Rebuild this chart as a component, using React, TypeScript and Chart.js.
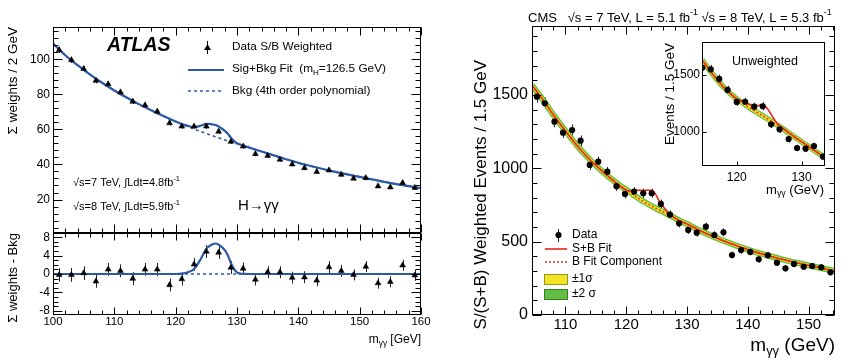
import React, { useEffect, useRef } from "react";
import { Chart, registerables } from "chart.js";

Chart.register(...registerables);

const W = 850;
const H = 364;
const FAM = '"Liberation Sans", Arial, Helvetica, sans-serif';
const BLUE = "#2c58a6";
const RED = "#e8261c";
const GREEN = "#62be40";
const YELLOW = "#f2e422";

// ---------------- ATLAS (left) ----------------
const atlasMass = [101, 103, 105, 107, 109, 111, 113, 115, 117, 119, 121, 123, 125, 127, 129, 131, 133, 135, 137, 139, 141, 143, 145, 147, 149, 151, 153, 155, 157, 159];
const atlasWeights = [105.3, 99.6, 94.5, 87.8, 85.8, 81.2, 75.9, 73.8, 70.2, 63.6, 61.7, 61.7, 61.7, 58.8, 53.0, 50.3, 46.0, 45.0, 42.8, 40.1, 38.0, 35.8, 36.7, 34.2, 32.0, 32.3, 27.6, 27.0, 29.5, 26.7];
const atlasWeightErr = [1.7, 1.7, 1.6, 1.6, 1.6, 1.6, 1.5, 1.5, 1.5, 1.4, 1.4, 1.4, 1.4, 1.4, 1.3, 1.3, 1.3, 1.3, 1.3, 1.2, 1.2, 1.2, 1.2, 1.2, 1.1, 1.1, 1.1, 1.1, 1.1, 1.1];
const atlasFitMass = [100, 102, 104, 106, 108, 110, 112, 114, 116, 118, 120, 121, 122, 123, 124, 125, 125.5, 126, 126.5, 127, 127.5, 128, 128.5, 129, 129.5, 130, 130.5, 131, 132, 134, 136, 138, 140, 142, 144, 146, 148, 150, 152, 154, 156, 158, 160];
const atlasBkg = [109.0, 102.3, 96.6, 91.4, 86.6, 82.2, 78.2, 74.4, 70.9, 67.6, 64.5, 63.0, 61.6, 60.2, 58.9, 57.6, 57.0, 56.4, 55.8, 55.2, 54.6, 54.0, 53.45, 52.9, 52.35, 51.8, 51.25, 50.7, 49.6, 47.4, 45.2, 43.0, 40.9, 39.1, 37.4, 35.8, 34.3, 32.9, 31.5, 30.1, 28.8, 27.6, 26.5];
const atlasSigBkg = [109.0, 102.3, 96.6, 91.4, 86.6, 82.2, 78.2, 74.4, 70.9, 67.6, 64.5, 63.1, 62.0, 61.3, 61.95, 63.1, 63.1, 62.9, 62.45, 61.6, 60.5, 59.2, 57.55, 55.3, 53.45, 52.15, 51.35, 50.72, 49.6, 47.4, 45.2, 43.0, 40.9, 39.1, 37.4, 35.8, 34.3, 32.9, 31.5, 30.1, 28.8, 27.6, 26.5];
const atlasResid = [-0.2, -0.2, 0.2, -1.6, 1.0, 0.7, -1.0, 1.0, 1.0, -2.4, -1.1, 2.1, 4.9, 4.7, 1.4, 1.2, -1.2, 0.4, 0.4, -0.8, -0.7, -1.4, 1.5, 0.7, -0.2, 1.6, -2.0, -1.7, 1.9, -0.3];
const atlasResidErr = [1.5, 1.5, 1.5, 1.4, 1.4, 1.4, 1.4, 1.4, 1.4, 1.4, 1.4, 1.4, 1.4, 1.4, 1.4, 1.3, 1.3, 1.3, 1.3, 1.3, 1.3, 1.3, 1.3, 1.3, 1.2, 1.2, 1.2, 1.2, 1.2, 1.2];
const residFitMass = [100, 120, 121, 122, 123, 124, 125, 125.5, 126, 126.5, 127, 127.5, 128, 128.5, 129, 129.5, 130, 130.5, 131, 132, 160];
const residFit = [0, 0, 0.1, 0.4, 1.1, 3.05, 5.5, 6.1, 6.5, 6.65, 6.4, 5.9, 5.2, 4.1, 2.4, 1.1, 0.35, 0.1, 0.02, 0, 0];
const residBkgMass = [100, 160];
const residBkg = [0, 0];
const atlasXTicks = [100, 110, 120, 130, 140, 150, 160];
const atlasYTicks = [20, 40, 60, 80, 100];
const residYTicks = [-8, -4, 0, 4, 8];

// ---------------- CMS (right) ----------------
const cmsMass = [105.3, 106.6, 108.2, 109.6, 111.1, 112.5, 114.0, 115.4, 116.9, 118.4, 119.8, 121.3, 122.8, 124.2, 125.7, 127.2, 128.7, 130.2, 131.6, 133.1, 134.5, 136.0, 137.4, 138.9, 140.4, 141.8, 143.3, 144.8, 146.2, 147.6, 149.2, 150.6, 152.1, 153.6];
const cmsEvents = [1488, 1443, 1318, 1243, 1261, 1188, 1023, 1045, 977, 878, 825, 841, 830, 830, 757, 684, 625, 580, 561, 602, 545, 564, 409, 443, 430, 380, 407, 357, 318, 348, 329, 334, 325, 291];
const cmsErr = [40, 40, 38, 37, 38, 36, 34, 34, 33, 32, 31, 31, 31, 31, 30, 29, 28, 27, 27, 27, 26, 26, 24, 25, 24, 23, 24, 23, 22, 23, 22, 22, 22, 21];
const cmsFitMass = [104.5, 106, 108, 110, 112, 114, 116, 118, 120, 120.7, 121.3, 122.8, 124.2, 125.7, 127.2, 128.7, 130, 132, 134, 136, 138, 140, 142, 144, 146, 148, 150, 152, 154.35];
const cmsBkg = [1565, 1485, 1365, 1255, 1150, 1060, 982, 912, 853, 836, 815, 775, 742, 710, 679, 645, 620, 578, 540, 506, 475, 446, 420, 397, 376, 356, 338, 320, 300];
const cmsSB = [1565, 1485, 1365, 1255, 1150, 1060, 982, 912, 853, 845, 850, 850, 850, 760, 686, 645, 620, 578, 540, 506, 475, 446, 420, 397, 376, 356, 338, 320, 300];
const cmsXTicks = [110, 120, 130, 140, 150];
const cmsYTicks = [0, 500, 1000, 1500];

// inset (unweighted)
const insetMass = [114.7, 116.0, 117.3, 118.6, 120.0, 121.3, 122.7, 124.0, 125.3, 126.6, 128.0, 129.3, 130.6, 131.9, 133.3];
const insetEvents = [1564, 1550, 1465, 1368, 1262, 1264, 1220, 1224, 1065, 1021, 935, 856, 850, 873, 779];
const insetErr = [40, 39, 38, 37, 36, 36, 35, 35, 33, 32, 31, 29, 29, 30, 28];
const insetFitMass = [114.65, 116.4, 117.9, 120.0, 121.0, 122.0, 123.1, 124.0, 124.7, 125.6, 126.3, 127.0, 128.2, 129.5, 130.8, 132.0, 133.6];
const insetBkg = [1632, 1500, 1397, 1288, 1250, 1210, 1171, 1139, 1115, 1083, 1057, 1030, 982, 930, 880, 832, 770];
const insetSB = [1632, 1500, 1397, 1290, 1265, 1242, 1230, 1234, 1205, 1125, 1068, 1036, 982, 930, 880, 832, 770];
const insetXTicks = [120, 130];
const insetYTicks = [1000, 1500];

// ---------------- helpers ----------------
type Seg = string | { t: string; s: "sup" | "sub" };

function rich(
  ctx: CanvasRenderingContext2D,
  segs: Seg[],
  x: number,
  y: number,
  size: number,
  o: { align?: "left" | "right" | "center"; weight?: string; italic?: boolean; rot?: boolean; color?: string } = {}
) {
  ctx.save();
  ctx.fillStyle = o.color || "#000";
  ctx.textBaseline = "middle";
  ctx.textAlign = "left";
  const fontFor = (small: boolean) =>
    `${o.italic ? "italic" : "normal"} ${o.weight || "normal"} ${small ? size * 0.68 : size}px ${FAM}`;
  const parts = segs.map((s) => (typeof s === "string" ? { t: s, s: undefined as any } : s));
  let total = 0;
  const widths = parts.map((p) => {
    ctx.font = fontFor(!!p.s);
    const w = ctx.measureText(p.t).width;
    total += w;
    return w;
  });
  ctx.translate(x, y);
  if (o.rot) ctx.rotate(-Math.PI / 2);
  let cx = o.align === "right" ? -total : o.align === "center" ? -total / 2 : 0;
  parts.forEach((p, i) => {
    ctx.font = fontFor(!!p.s);
    const dy = p.s === "sup" ? -size * 0.38 : p.s === "sub" ? size * 0.3 : 0;
    ctx.fillText(p.t, cx, dy);
    cx += widths[i];
  });
  ctx.restore();
}

interface FrameSpec {
  xMajor: number[];
  xMinor: number;
  yMajor: number[];
  yMinor: number;
  xLen: [number, number];
  yLen: [number, number];
  top: boolean;
  right: boolean;
}

function drawFrame(chart: any, f: FrameSpec) {
  const { ctx, chartArea: a } = chart;
  const xs = chart.scales.x;
  const ys = chart.scales.y;
  const L = Math.round(a.left) + 0.5;
  const R = Math.round(a.right) - 0.5;
  const T = Math.round(a.top) + 0.5;
  const B = Math.round(a.bottom) - 0.5;
  ctx.save();
  ctx.strokeStyle = "#000";
  ctx.lineWidth = 1;
  ctx.strokeRect(L, T, R - L, B - T);
  ctx.beginPath();
  const xTick = (v: number, len: number) => {
    const p = Math.round(xs.getPixelForValue(v)) + 0.5;
    ctx.moveTo(p, B);
    ctx.lineTo(p, B - len);
    if (f.top) {
      ctx.moveTo(p, T);
      ctx.lineTo(p, T + len);
    }
  };
  const yTick = (v: number, len: number) => {
    const p = Math.round(ys.getPixelForValue(v)) + 0.5;
    ctx.moveTo(L, p);
    ctx.lineTo(L + len, p);
    if (f.right) {
      ctx.moveTo(R, p);
      ctx.lineTo(R - len, p);
    }
  };
  f.xMajor.forEach((v) => xTick(v, f.xLen[0]));
  f.yMajor.forEach((v) => yTick(v, f.yLen[0]));
  if (f.xMinor > 0) {
    for (let k = Math.ceil(xs.min / f.xMinor - 1e-9); k * f.xMinor <= xs.max + 1e-9; k++) {
      const v = k * f.xMinor;
      if (!f.xMajor.some((m) => Math.abs(m - v) < 1e-6)) xTick(v, f.xLen[1]);
    }
  }
  if (f.yMinor > 0) {
    for (let k = Math.ceil(ys.min / f.yMinor - 1e-9); k * f.yMinor <= ys.max + 1e-9; k++) {
      const v = k * f.yMinor;
      if (!f.yMajor.some((m) => Math.abs(m - v) < 1e-6)) yTick(v, f.yLen[1]);
    }
  }
  ctx.stroke();
  ctx.restore();
}

function drawErrors(chart: any) {
  const ctx = chart.ctx;
  const ys = chart.scales.y;
  chart.data.datasets.forEach((ds: any, i: number) => {
    if (!ds.errors) return;
    const meta = chart.getDatasetMeta(i);
    ctx.save();
    ctx.strokeStyle = "#222";
    ctx.lineWidth = 1;
    ctx.beginPath();
    meta.data.forEach((el: any, j: number) => {
      const v = ds.data[j].y;
      const e = ds.errors[j];
      const x = Math.round(el.x) + 0.5;
      ctx.moveTo(x, ys.getPixelForValue(v + e));
      ctx.lineTo(x, ys.getPixelForValue(v - e));
    });
    ctx.stroke();
    ctx.restore();
  });
}

const pts = (xs: number[], ys: number[]) => xs.map((x, i) => ({ x, y: ys[i] }));

function axis(min: number, max: number, ticks: number[], size: number, pad: number, display: boolean, fit: (s: any) => void) {
  return {
    type: "linear",
    min,
    max,
    display,
    grid: { display: false, drawTicks: false },
    border: { display: false },
    afterBuildTicks: (s: any) => {
      s.ticks = ticks.map((v) => ({ value: v }));
    },
    afterFit: fit,
    ticks: {
      autoSkip: false,
      maxRotation: 0,
      minRotation: 0,
      padding: pad,
      color: "#000",
      font: { family: FAM, size },
      callback: (v: any) => String(v),
    },
  };
}

type Area = { L: number; T: number; R: number; B: number };

function options(area: Area, yW: number, xH: number, x: any, y: any) {
  return {
    responsive: false,
    animation: false,
    events: [],
    layout: {
      autoPadding: false,
      padding: { left: area.L - yW, top: area.T, right: W - area.R, bottom: H - area.B - xH },
    },
    plugins: { legend: { display: false }, tooltip: { enabled: false }, title: { display: false } },
    scales: { x, y },
  };
}

function line(data: any[], color: string, width: number, dash: number[] = []) {
  return {
    data,
    showLine: true,
    borderColor: color,
    borderWidth: width,
    borderDash: dash,
    pointRadius: 0,
    fill: false,
    cubicInterpolationMode: "monotone",
    borderCapStyle: "butt",
  };
}

function makePlugin(frame: FrameSpec, texts: (ctx: CanvasRenderingContext2D) => void, white = false) {
  return {
    id: "decor",
    beforeDraw(chart: any) {
      if (!white) return;
      const a = chart.chartArea;
      chart.ctx.save();
      chart.ctx.fillStyle = "#fff";
      chart.ctx.fillRect(a.left, a.top, a.right - a.left, a.bottom - a.top);
      chart.ctx.restore();
    },
    beforeDatasetsDraw(chart: any) {
      drawErrors(chart);
    },
    afterDraw(chart: any) {
      drawFrame(chart, frame);
      texts(chart.ctx);
    },
  };
}

// ---------------- chart builders ----------------
function atlasMainChart(canvas: HTMLCanvasElement) {
  const area = { L: 53, T: 27, R: 421, B: 233 };
  const yW = 53;
  const xH = 0;
  return new Chart(canvas, {
    type: "scatter",
    data: {
      datasets: [
        {
          data: pts(atlasMass, atlasWeights),
          errors: atlasWeightErr,
          pointStyle: "triangle",
          pointRadius: 3.4,
          pointBackgroundColor: "#000",
          pointBorderColor: "#000",
          pointBorderWidth: 0.5,
          showLine: false,
        } as any,
        line(pts(atlasFitMass, atlasSigBkg), BLUE, 2.2),
        line(pts(atlasFitMass, atlasBkg), BLUE, 1.6, [3, 3]),
      ],
    },
    options: options(
      area,
      yW,
      xH,
      axis(100, 160, atlasXTicks, 11.5, 0, false, (s) => { s.height = xH; }),
      axis(0.9, 118.4, atlasYTicks, 12, 3, true, (s) => { s.width = yW; })
    ) as any,
    plugins: [
      makePlugin(
        { xMajor: atlasXTicks, xMinor: 2, yMajor: atlasYTicks, yMinor: 4, xLen: [8, 4], yLen: [9, 5], top: true, right: true },
        (ctx) => {
          rich(ctx, ["ATLAS"], 107, 46, 19.5, { weight: "bold", italic: true });
          // legend: data marker
          ctx.save();
          ctx.strokeStyle = "#000";
          ctx.lineWidth = 1;
          ctx.beginPath();
          ctx.moveTo(207.5, 41);
          ctx.lineTo(207.5, 54);
          ctx.stroke();
          ctx.fillStyle = "#000";
          ctx.beginPath();
          ctx.moveTo(207.5, 44);
          ctx.lineTo(211, 50);
          ctx.lineTo(204, 50);
          ctx.closePath();
          ctx.fill();
          ctx.strokeStyle = BLUE;
          ctx.lineWidth = 2;
          ctx.beginPath();
          ctx.moveTo(188, 70);
          ctx.lineTo(224, 70);
          ctx.stroke();
          ctx.lineWidth = 1.6;
          ctx.setLineDash([3, 3]);
          ctx.beginPath();
          ctx.moveTo(188, 91);
          ctx.lineTo(224, 91);
          ctx.stroke();
          ctx.restore();
          rich(ctx, ["Data S/B Weighted"], 232, 47, 11.8);
          rich(ctx, ["Sig+Bkg Fit  (m", { t: "H", s: "sub" }, "=126.5 GeV)"], 232, 69, 11.8);
          rich(ctx, ["Bkg (4th order polynomial)"], 232, 91, 11.8);
          rich(ctx, ["√s=7 TeV, ∫Ldt=4.8fb", { t: "-1", s: "sup" }], 73, 183, 11);
          rich(ctx, ["√s=8 TeV, ∫Ldt=5.9fb", { t: "-1", s: "sup" }], 73, 207, 11);
          rich(ctx, ["H→γγ"], 238, 206, 15);
          rich(ctx, ["Σ weights / 2 GeV"], 13, 27, 13.5, { rot: true, align: "right" });
        }
      ),
    ],
  } as any);
}

function atlasResidChart(canvas: HTMLCanvasElement) {
  const area = { L: 53, T: 233, R: 421, B: 315 };
  const yW = 53;
  const xH = 20;
  return new Chart(canvas, {
    type: "scatter",
    data: {
      datasets: [
        {
          data: pts(atlasMass, atlasResid),
          errors: atlasResidErr,
          pointStyle: "triangle",
          pointRadius: 3.4,
          pointBackgroundColor: "#000",
          pointBorderColor: "#000",
          pointBorderWidth: 0.5,
          showLine: false,
        } as any,
        line(pts(residFitMass, residFit), BLUE, 2.2),
        line(pts(residBkgMass, residBkg), BLUE, 1.4, [3, 3]),
      ],
    },
    options: options(
      area,
      yW,
      xH,
      axis(100, 160, atlasXTicks, 11.5, 0, true, (s) => { s.height = xH; }),
      axis(-8.94, 8.94, residYTicks, 12, 3, true, (s) => { s.width = yW; })
    ) as any,
    plugins: [
      makePlugin(
        { xMajor: atlasXTicks, xMinor: 2, yMajor: residYTicks, yMinor: 1, xLen: [7, 4], yLen: [9, 5], top: true, right: true },
        (ctx) => {
          rich(ctx, ["Σ weights - Bkg"], 13, 233, 13, { rot: true, align: "right" });
          rich(ctx, ["m", { t: "γγ", s: "sub" }, " [GeV]"], 421, 340, 12, { align: "right" });
        }
      ),
    ],
  } as any);
}

function cmsMainChart(canvas: HTMLCanvasElement) {
  const area = { L: 532, T: 26, R: 835, B: 315 };
  const yW = 60;
  const xH = 25;
  return new Chart(canvas, {
    type: "scatter",
    data: {
      datasets: [
        {
          data: pts(cmsMass, cmsEvents),
          errors: cmsErr,
          pointStyle: "circle",
          pointRadius: 3.1,
          pointBackgroundColor: "#000",
          pointBorderColor: "#000",
          pointBorderWidth: 0,
          showLine: false,
        } as any,
        line(pts(cmsFitMass, cmsSB), RED, 1.6),
        line(pts(cmsFitMass, cmsBkg), RED, 1.4, [2, 2]),
        line(pts(cmsFitMass, cmsBkg), YELLOW, 3.2),
        line(pts(cmsFitMass, cmsBkg), GREEN, 6),
      ],
    },
    options: options(
      area,
      yW,
      xH,
      axis(104.5, 154.35, cmsXTicks, 15, 1, true, (s) => { s.height = xH; }),
      axis(0, 1970, cmsYTicks, 16, 4, true, (s) => { s.width = yW; })
    ) as any,
    plugins: [
      makePlugin(
        { xMajor: cmsXTicks, xMinor: 2, yMajor: cmsYTicks, yMinor: 100, xLen: [8, 4], yLen: [9, 5], top: true, right: true },
        (ctx) => {
          rich(
            ctx,
            ["CMS   √s = 7 TeV, L = 5.1 fb", { t: "-1", s: "sup" }, " √s = 8 TeV, L = 5.3 fb", { t: "-1", s: "sup" }],
            528,
            18,
            13
          );
          rich(ctx, ["S/(S+B) Weighted Events / 1.5 GeV"], 481, 60, 17, { rot: true, align: "right" });
          rich(ctx, ["m", { t: "γγ", s: "sub" }, " (GeV)"], 835, 346, 19, { align: "right" });
          // legend
          ctx.save();
          ctx.strokeStyle = "#222";
          ctx.lineWidth = 1;
          ctx.beginPath();
          ctx.moveTo(558.5, 229);
          ctx.lineTo(558.5, 242);
          ctx.stroke();
          ctx.fillStyle = "#000";
          ctx.beginPath();
          ctx.arc(558.5, 235, 3.1, 0, Math.PI * 2);
          ctx.fill();
          ctx.strokeStyle = RED;
          ctx.lineWidth = 1.6;
          ctx.beginPath();
          ctx.moveTo(545, 249);
          ctx.lineTo(567, 249);
          ctx.stroke();
          ctx.setLineDash([2, 2]);
          ctx.lineWidth = 1.4;
          ctx.beginPath();
          ctx.moveTo(545, 262);
          ctx.lineTo(567, 262);
          ctx.stroke();
          ctx.setLineDash([]);
          ctx.lineWidth = 1;
          ctx.fillStyle = YELLOW;
          ctx.fillRect(544, 274, 23, 10);
          ctx.strokeStyle = "#9a9420";
          ctx.strokeRect(544.5, 274.5, 23, 10);
          ctx.fillStyle = GREEN;
          ctx.fillRect(544, 289, 23, 10);
          ctx.strokeStyle = "#3a7a28";
          ctx.strokeRect(544.5, 289.5, 23, 10);
          ctx.restore();
          rich(ctx, ["Data"], 572, 235, 12);
          rich(ctx, ["S+B Fit"], 572, 249, 12);
          rich(ctx, ["B Fit Component"], 572, 262, 12);
          rich(ctx, ["±1σ"], 572, 279, 12);
          rich(ctx, ["±2 σ"], 572, 294, 12);
        }
      ),
    ],
  } as any);
}

function insetChart(canvas: HTMLCanvasElement) {
  const area = { L: 702, T: 42, R: 825, B: 166 };
  const yW = 30;
  const xH = 16;
  return new Chart(canvas, {
    type: "scatter",
    data: {
      datasets: [
        {
          data: pts(insetMass, insetEvents),
          errors: insetErr,
          pointStyle: "circle",
          pointRadius: 3.1,
          pointBackgroundColor: "#000",
          pointBorderColor: "#000",
          pointBorderWidth: 0,
          showLine: false,
        } as any,
        line(pts(insetFitMass, insetSB), RED, 1.6),
        line(pts(insetFitMass, insetBkg), RED, 1.4, [2, 2]),
        line(pts(insetFitMass, insetBkg), YELLOW, 3.2),
        line(pts(insetFitMass, insetBkg), GREEN, 5.5),
      ],
    },
    options: options(
      area,
      yW,
      xH,
      axis(114.65, 133.6, insetXTicks, 12, 4, true, (s) => { s.height = xH; }),
      axis(697, 1791, insetYTicks, 12, 2, true, (s) => { s.width = yW; })
    ) as any,
    plugins: [
      makePlugin(
        { xMajor: insetXTicks, xMinor: 0, yMajor: insetYTicks, yMinor: 0, xLen: [4, 0], yLen: [4, 0], top: false, right: false },
        (ctx) => {
          rich(ctx, ["Unweighted"], 765, 62, 12.5, { align: "center" });
          rich(ctx, ["Events / 1.5 GeV"], 670, 43, 13.5, { rot: true, align: "right" });
          rich(ctx, ["m", { t: "γγ", s: "sub" }, " (GeV)"], 824, 190, 13, { align: "right" });
        },
        true
      ),
    ],
  } as any);
}

export default function App() {
  const r1 = useRef<HTMLCanvasElement>(null);
  const r2 = useRef<HTMLCanvasElement>(null);
  const r3 = useRef<HTMLCanvasElement>(null);
  const r4 = useRef<HTMLCanvasElement>(null);

  useEffect(() => {
    const charts: Chart[] = [];
    if (r1.current) charts.push(atlasMainChart(r1.current));
    if (r2.current) charts.push(atlasResidChart(r2.current));
    if (r3.current) charts.push(cmsMainChart(r3.current));
    if (r4.current) charts.push(insetChart(r4.current));
    return () => charts.forEach((c) => c.destroy());
  }, []);

  const st: React.CSSProperties = { position: "absolute", left: 0, top: 0, width: W, height: H };
  return (
    <div style={{ position: "absolute", left: 0, top: 0, width: W, height: H, background: "#fff" }}>
      <canvas ref={r1} width={W} height={H} style={st} />
      <canvas ref={r2} width={W} height={H} style={st} />
      <canvas ref={r3} width={W} height={H} style={st} />
      <canvas ref={r4} width={W} height={H} style={st} />
    </div>
  );
}
